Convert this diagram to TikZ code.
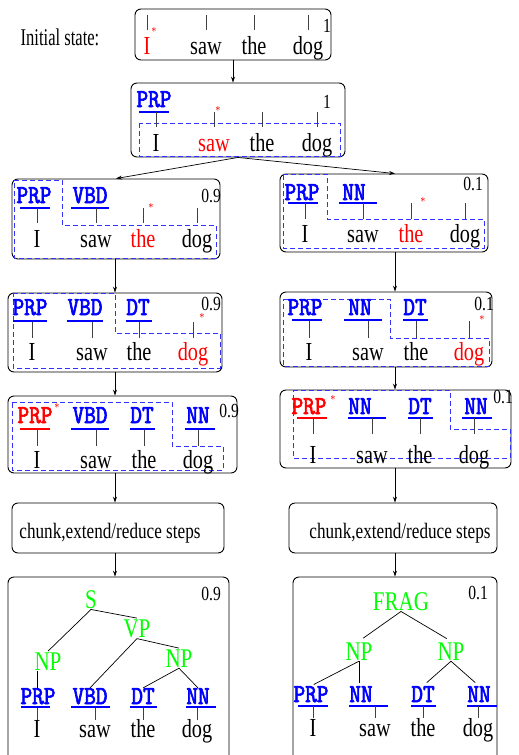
\documentclass[tikz,border=0pt]{standalone}
\usepackage{fontspec}
\usepackage{graphicx}
\usetikzlibrary{arrows.meta}
\newfontfamily\wf[FakeStretch=0.78]{Liberation Serif}
\newfontfamily\wfi[FakeStretch=0.69]{Liberation Serif}
\newfontfamily\tgf[FakeStretch=0.85,FakeBold=2.5]{lmmono10-regular.otf}
\newcommand\T[1]{{\tgf #1}}
\definecolor{dblue}{RGB}{50,50,255}
\tikzset{
 box/.style={draw, rounded corners=6pt, line width=0.9pt, inner sep=0pt},
 wd/.style={font=\wf\fontsize{26}{26}\selectfont, anchor=base, inner sep=0pt},
 rw/.style={wd, text=red},
 tg/.style={font=\fontsize{26}{26}\selectfont, text=blue, anchor=base, inner sep=0pt},
 rtg/.style={tg, text=red},
 ph/.style={font=\wf\fontsize{27}{27}\selectfont, text=green, anchor=base, inner sep=1pt},
 pr/.style={font=\wf\fontsize{20}{20}\selectfont, anchor=base east, inner sep=0pt},
 ast/.style={font=\wf\fontsize{12}{12}\selectfont, text=red, inner sep=0pt},
 ul/.style={blue, line width=1.1pt},
 rul/.style={red, line width=1.1pt},
 tk/.style={black!75, line width=0.7pt},
 dsh/.style={dblue, dash pattern=on 5pt off 3pt, line width=0.9pt},
 arr/.style={-{Stealth[length=6pt,width=4pt]}, line width=0.7pt},
 trl/.style={line width=0.7pt},
 chk/.style={font=\wf\fontsize{22}{22}\selectfont, anchor=base, inner sep=0pt},
}
\begin{document}
\begin{tikzpicture}[x=1pt,y=-1pt]
\useasboundingbox (0,0) rectangle (519,755);
\fill[white] (0,0) rectangle (519,755);
\coordinate (cT) at (233,0);
\coordinate (cL) at (115,0);
\coordinate (cR) at (395,0);

% ---------- initial state
\node[wd, font=\wfi\fontsize{24}{24}\selectfont] (init) at (60,45) {Initial state:};
\node[box, minimum width=196pt, minimum height=51pt] (B1) at (233,34.5) {};
\node[rw] (a1) at (147,54) {I};
\node[wd] (a2) at (206,54) {saw};
\node[wd] (a3) at (254,54) {the};
\node[wd] (a4) at (308,54) {dog};
\foreach \n in {a1,a2,a3,a4} \draw[tk] (\n |- 0,15) -- (\n |- 0,30);
\node[ast] (s1) at (154,32) {*};
\node[pr] (p1) at (331,32) {1};

% ---------- box 2
\node[box, minimum width=214pt, minimum height=74pt] (B2) at (238,120) {};
\draw[dsh] (139,123) rectangle (340,156);
\node[tg] (b0) at (154,107) {\T{PRP}};
\draw[ul] (139,112) -- (169,112);
\node[wd] (b1) at (156,151) {I};
\node[rw] (b2) at (214,151) {saw};
\node[wd] (b3) at (262,151) {the};
\node[wd] (b4) at (317,151) {dog};
\foreach \n in {b1,b2,b3,b4} \draw[tk] (\n |- 0,112) -- (\n |- 0,127);
\node[ast] (s2) at (218,111) {*};
\node[pr] (p2) at (331,108) {1};

% ---------- L1
\node[box, minimum width=208pt, minimum height=80pt] (L1) at (116,219) {};
\draw[dsh] (14,180) -- (62,180) -- (62,225) -- (216,225) -- (216,258) -- (14,258) -- cycle;
\node[tg] (c01) at (34,203) {\T{PRP}};
\node[tg] (c02) at (90,203) {\T{VBD}};
\draw[ul] (20,208) -- (50,208);
\draw[ul] (71,208) -- (109,208);
\node[wd] (c1) at (37,247) {I};
\node[wd] (c2) at (96,247) {saw};
\node[rw] (c3) at (143,247) {the};
\node[wd] (c4) at (197,247) {dog};
\foreach \n in {c1,c2,c3,c4} \draw[tk] (\n |- 0,208) -- (\n |- 0,223);
\node[ast] (s3) at (151,208) {*};
\node[pr] (p3) at (221,202) {0.9};

% ---------- R1
\node[box, minimum width=208pt, minimum height=78pt] (R1) at (384,213) {};
\draw[dsh] (283,174) -- (327,174) -- (327,219) -- (484,219) -- (484,248) -- (283,248) -- cycle;
\node[tg] (d01) at (302,200) {\T{PRP}};
\node[tg] (d02) at (354,200) {\T{NN}};
\draw[ul] (288,203) -- (318,203);
\draw[ul] (339,203) -- (377,203);
\node[wd] (d1) at (305,242) {I};
\node[wd] (d2) at (363,242) {saw};
\node[rw] (d3) at (411,242) {the};
\node[wd] (d4) at (465,242) {dog};
\foreach \n in {d1,d2,d3,d4} \draw[tk] (\n |- 0,203) -- (\n |- 0,219);
\node[ast] (s4) at (423,202) {*};
\node[pr] (p4) at (483,190) {0.1};

% ---------- L2
\node[box, minimum width=214pt, minimum height=79pt] (L2) at (115,332.5) {};
\draw[dsh] (13,293) -- (115,293) -- (115,333) -- (220,333) -- (220,368) -- (13,368) -- cycle;
\node[tg] (e01) at (30,315) {\T{PRP}};
\node[tg] (e02) at (85,315) {\T{VBD}};
\node[tg] (e03) at (138,315) {\T{DT}};
\draw[ul] (13,321) -- (47,321);
\draw[ul] (67,321) -- (103,321);
\draw[ul] (126,321) -- (152,321);
\node[wd] (e1) at (32,360) {I};
\node[wd] (e2) at (92,360) {saw};
\node[wd] (e3) at (139,360) {the};
\node[rw] (e4) at (193,360) {dog};
\foreach \n in {e1,e2,e3,e4} \draw[tk] (\n |- 0,322) -- (\n |- 0,338);
\node[ast] (s5) at (202,318) {*};
\node[pr] (p5) at (221,310) {0.9};

% ---------- R2
\node[box, minimum width=212pt, minimum height=75pt] (R2) at (386,329.5) {};
\draw[dsh] (283,299) -- (390,299) -- (390,338) -- (489,338) -- (489,366) -- (283,366) -- cycle;
\node[tg] (f01) at (305,315) {\T{PRP}};
\node[tg] (f02) at (360,315) {\T{NN}};
\node[tg] (f03) at (415,315) {\T{DT}};
\draw[ul] (292,320) -- (322,320);
\draw[ul] (344,320) -- (382,320);
\draw[ul] (403,320) -- (428,320);
\node[wd] (f1) at (309,360) {I};
\node[wd] (f2) at (368,360) {saw};
\node[wd] (f3) at (416,360) {the};
\node[rw] (f4) at (469,360) {dog};
\foreach \n in {f1,f2,f3,f4} \draw[tk] (\n |- 0,321) -- (\n |- 0,338);
\node[ast] (s6) at (482,320) {*};
\node[pr] (p6) at (494,310) {0.1};

% ---------- L3
\node[box, minimum width=229pt, minimum height=77pt] (L3) at (122.5,434.5) {};
\draw[dsh] (12,402) -- (172,402) -- (172,446) -- (223,446) -- (223,470) -- (12,470) -- cycle;
\node[rtg] (g01) at (35,423) {\T{PRP}};
\node[tg] (g02) at (90,423) {\T{VBD}};
\node[tg] (g03) at (142,423) {\T{DT}};
\node[tg] (g04) at (198,423) {\T{NN}};
\draw[rul] (20,429) -- (50,429);
\draw[ul] (71,429) -- (109,429);
\draw[ul] (130,429) -- (155,429);
\draw[ul] (185,429) -- (215,429);
\node[wd] (g1) at (37,468) {I};
\node[wd] (g2) at (96,468) {saw};
\node[wd] (g3) at (144,468) {the};
\node[wd] (g4) at (198,468) {dog};
\foreach \n in {g1,g2,g3,g4} \draw[tk] (\n |- 0,430) -- (\n |- 0,446);
\node[ast] (s7) at (57,408) {*};
\node[pr] (p7) at (239,417) {0.9};

% ---------- R3
\node[box, minimum width=231pt, minimum height=78pt] (R3) at (395.5,429) {};
\draw[dsh] (293,390) -- (450,390) -- (450,429) -- (510,429) -- (510,458) -- (293,458) -- cycle;
\node[rtg] (h01) at (309,414) {\T{PRP}};
\node[tg] (h02) at (360,414) {\T{NN}};
\node[tg] (h03) at (420,414) {\T{DT}};
\node[tg] (h04) at (476,414) {\T{NN}};
\draw[rul] (297,418) -- (327,418);
\draw[ul] (348,418) -- (386,418);
\draw[ul] (408,418) -- (433,418);
\draw[ul] (462,418) -- (492,418);
\node[wd] (h1) at (313,463) {I};
\node[wd] (h2) at (372,463) {saw};
\node[wd] (h3) at (420,463) {the};
\node[wd] (h4) at (474,463) {dog};
\foreach \n in {h1,h2,h3,h4} \draw[tk] (\n |- 0,418) -- (\n |- 0,434);
\node[ast] (s8) at (333,400) {*};
\node[pr] (p8) at (513,403) {0.1};

% ---------- chunk boxes
\node[box, minimum width=212pt, minimum height=50pt] (CL) at (118,528) {};
\node[chk] (ctl) at (110,538) {chunk,extend/reduce steps};
\node[box, minimum width=208pt, minimum height=50pt] (CR) at (393,528) {};
\node[chk] (ctr) at (400,538) {chunk,extend/reduce steps};

% ---------- left tree
\node[box, minimum width=221pt, minimum height=185pt] (LT) at (118.5,669.5) {};
\node[pr] (p9) at (221,600) {0.9};
\node[ph] (tS) at (91,608) {S};
\node[ph] (tVP) at (137,637) {VP};
\node[ph] (tNPa) at (48,670) {NP};
\node[ph] (tNPb) at (179,667) {NP};
\node[tg] (i01) at (38,704) {\T{PRP}};
\node[tg] (i02) at (90,704) {\T{VBD}};
\node[tg] (i03) at (143,704) {\T{DT}};
\node[tg] (i04) at (198,704) {\T{NN}};
\draw[ul] (21,707) -- (50,707);
\draw[ul] (71,707) -- (110,707);
\draw[ul] (130,707) -- (157,707);
\draw[ul] (186,707) -- (216,707);
\node[wd] (i1) at (37,737) {I};
\node[wd] (i2) at (95,737) {saw};
\node[wd] (i3) at (143,737) {the};
\node[wd] (i4) at (197,737) {dog};
\foreach \n in {i1,i2,i3,i4} \draw[tk] (\n |- 0,708) -- (\n |- 0,720);
\draw[trl] (tS.south) -- (tNPa.north);
\draw[trl] (tS.south) -- (tVP.north);
\draw[trl] (tVP.south) -- (i02.north);
\draw[trl] (tVP.south) -- (tNPb.north);
\draw[trl] (tNPa.south -| i1) -- (i01.north -| i1);
\draw[trl] (tNPb.south) -- (i03.north);
\draw[trl] (tNPb.south) -- (i04.north);

% ---------- right tree
\node[box, minimum width=204pt, minimum height=185pt] (RT) at (395,669.5) {};
\node[pr] (p10) at (488,599) {0.1};
\node[ph] (tF) at (401,610) {FRAG};
\node[ph] (tNPc) at (359,660) {NP};
\node[ph] (tNPd) at (451,660) {NP};
\node[tg] (j01) at (311,702) {\T{PRP}};
\node[tg] (j02) at (361,702) {\T{NN}};
\node[tg] (j03) at (423,702) {\T{DT}};
\node[tg] (j04) at (479,702) {\T{NN}};
\draw[ul] (298,706) -- (328,706);
\draw[ul] (349,706) -- (388,706);
\draw[ul] (411,706) -- (436,706);
\draw[ul] (467,706) -- (497,706);
\node[wd] (j1) at (313,736) {I};
\node[wd] (j2) at (375,736) {saw};
\node[wd] (j3) at (423,736) {the};
\node[wd] (j4) at (478,736) {dog};
\foreach \n in {j1,j2,j3,j4} \draw[tk] (\n |- 0,706) -- (\n |- 0,718);
\draw[trl, shorten >=5pt] (tF.south) -- (tNPc.north);
\draw[trl, shorten >=5pt] (tF.south) -- (tNPd.north);
\draw[trl, shorten >=3pt] (tNPc.south) -- (j01.north);
\draw[trl, shorten >=3pt] (tNPc.south) -- (j02.north -| tNPc);
\draw[trl, shorten >=5pt] (tNPd.south) -- (j03.north);
\draw[trl, shorten >=5pt] (tNPd.south) -- (j04.north);

% ---------- arrows
\draw[arr] (B1.south -| cT) -- (B2.north -| cT);
\draw[arr] (B2.south) -- (L1.north);
\draw[arr] (B2.south) -- (R1.north -| cR);
\draw[arr] (L1.south -| cL) -- (L2.north -| cL);
\draw[arr] (L2.south -| cL) -- (L3.north -| cL);
\draw[arr] (L3.south -| cL) -- (CL.north -| cL);
\draw[arr] (CL.south -| cL) -- (LT.north -| cL);
\draw[arr] (R1.south -| cR) -- (R2.north -| cR);
\draw[arr] (R2.south -| cR) -- (R3.north -| cR);
\draw[arr] (R3.south -| cR) -- (CR.north -| cR);
\draw[arr] (CR.south -| cR) -- (RT.north -| cR);
\end{tikzpicture}
\end{document}
